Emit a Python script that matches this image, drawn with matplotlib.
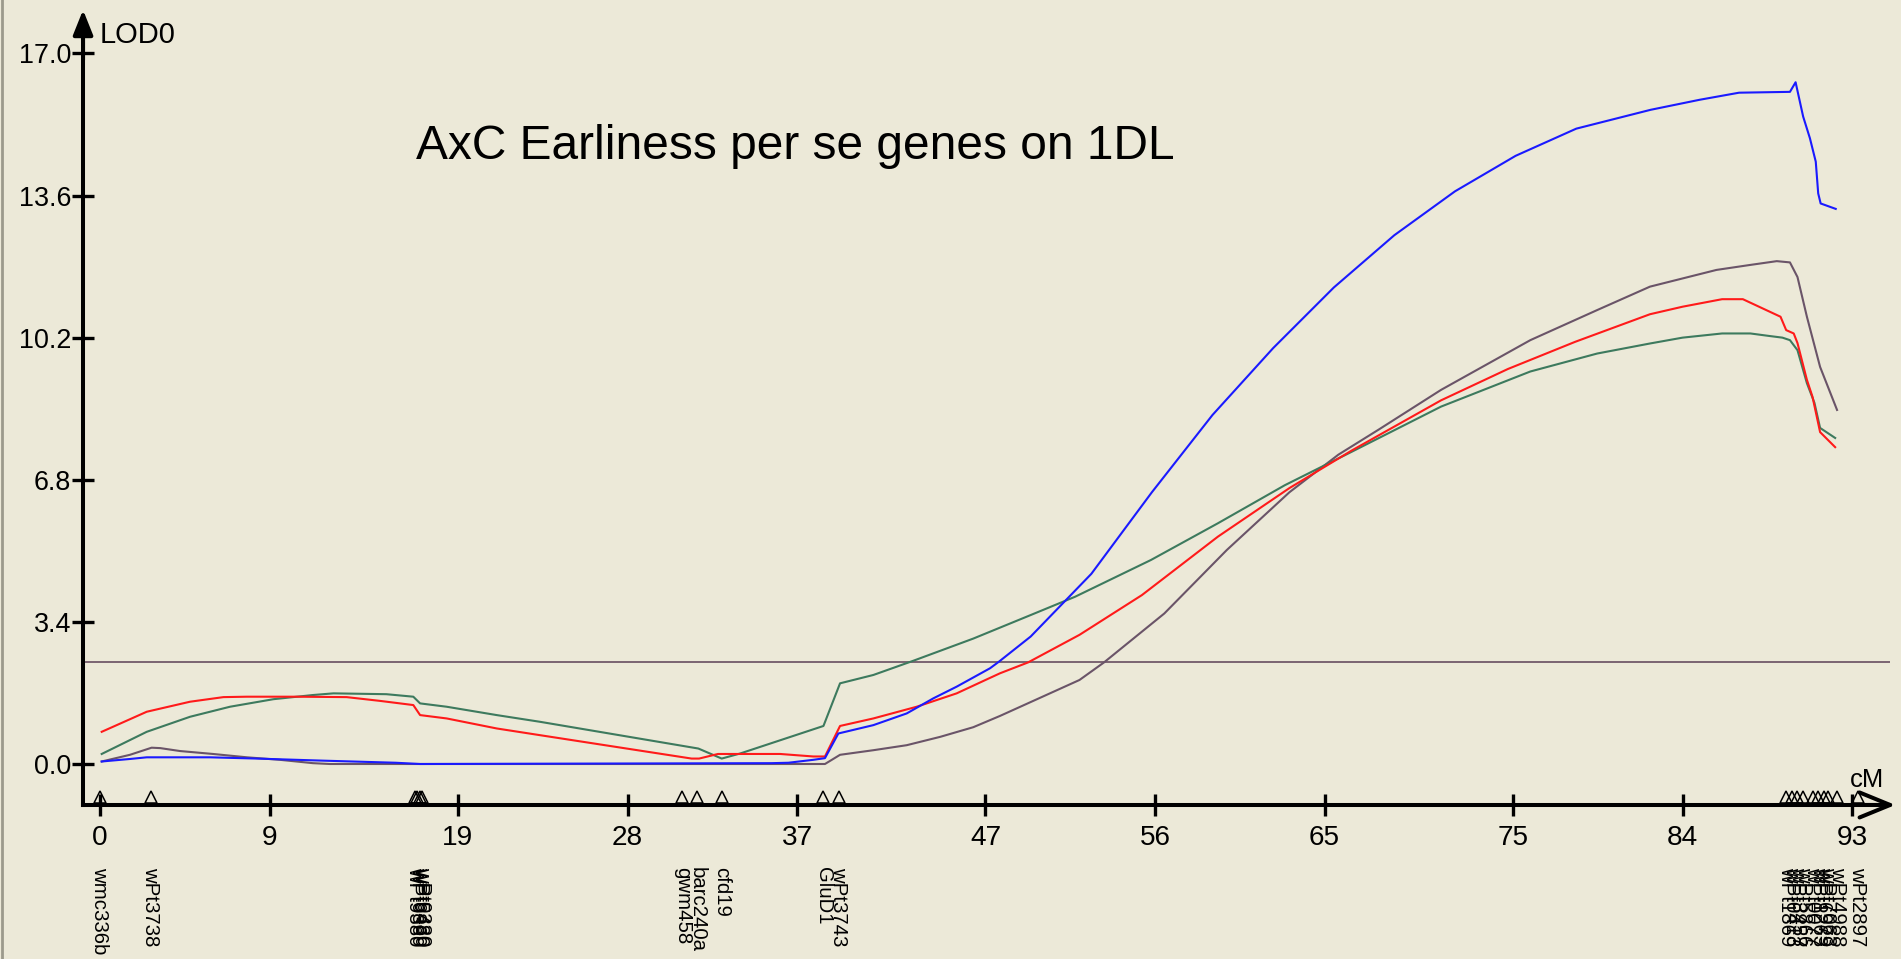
import matplotlib
matplotlib.use('Agg')
import matplotlib.pyplot as plt
from matplotlib import font_manager
from matplotlib.lines import Line2D

# LOD profiles along 1DL (position in cM, LOD score)
blue_cm = [0.09, 1.59, 2.48, 5.84, 8.3, 11.85, 15.7, 16.99, 35.65, 36.54, 37.86, 38.48, 39.19, 41.05,
           42.82, 44.23, 45.47, 47.24, 47.72, 49.4, 52.62, 55.83, 59.05, 62.27, 65.49, 68.7, 71.92,
           75.14, 78.36, 82.3, 84.9, 87.0, 89.7, 90.0, 90.4, 90.76, 91.07, 91.2, 91.33, 92.13]
blue_lod = [0.06, 0.12, 0.16, 0.16, 0.13, 0.08, 0.03, 0.0, 0.02, 0.03, 0.10, 0.14, 0.73, 0.93,
            1.21, 1.57, 1.85, 2.29, 2.45, 3.05, 4.55, 6.5, 8.35, 9.95, 11.4, 12.65, 13.7,
            14.55, 15.2, 15.65, 15.89, 16.06, 16.08, 16.31, 15.49, 14.97, 14.41, 13.65, 13.41, 13.28]

red_cm = [0.09, 2.48, 4.78, 6.55, 7.79, 10.44, 13.09, 14.86, 16.63, 16.99, 18.4, 21.06, 23.35, 31.4,
          31.8, 32.8, 36.1, 37.86, 38.48, 39.28, 41.05, 43.35, 45.47, 47.0, 47.77, 49.26, 51.99,
          55.3, 59.34, 63.13, 66.44, 68.81, 71.18, 74.73, 78.3, 82.27, 84.0, 86.1, 87.2, 89.2,
          89.5, 89.9, 90.1, 90.6, 90.9, 91.3, 92.1]
red_lod = [0.77, 1.25, 1.49, 1.60, 1.61, 1.61, 1.60, 1.51, 1.41, 1.17, 1.09, 0.85, 0.69, 0.13,
           0.13, 0.24, 0.24, 0.18, 0.18, 0.91, 1.09, 1.37, 1.69, 2.01, 2.17, 2.43, 3.09,
           4.04, 5.44, 6.6, 7.5, 8.1, 8.7, 9.45, 10.1, 10.76, 10.94, 11.12, 11.12, 10.7,
           10.38, 10.3, 10.07, 9.19, 8.78, 7.94, 7.58]

green_cm = [0.09, 2.48, 4.78, 6.9, 9.2, 11.3, 12.39, 15.2, 16.63, 16.99, 18.4, 21.06, 23.35, 31.76,
            33.0, 33.97, 38.4, 39.28, 41.05, 43.17, 46.35, 49.38, 51.75, 55.78, 59.34, 62.89,
            66.44, 71.18, 75.92, 79.47, 82.27, 84.0, 86.1, 87.6, 88.6, 89.3, 89.7, 90.1, 90.6,
            91.0, 91.3, 92.1]
green_lod = [0.24, 0.77, 1.13, 1.37, 1.55, 1.65, 1.69, 1.67, 1.61, 1.45, 1.37, 1.17, 1.01, 0.37,
             0.13, 0.25, 0.91, 1.93, 2.13, 2.47, 3.0, 3.56, 4.0, 4.88, 5.76, 6.67,
             7.47, 8.55, 9.39, 9.82, 10.06, 10.2, 10.3, 10.3, 10.24, 10.2, 10.14, 9.9, 9.11,
             8.64, 8.04, 7.8]

purple_cm = [0.09, 1.59, 2.74, 3.2, 4.25, 6.0, 7.8, 9.55, 11.3, 12.2, 38.48, 39.28, 41.05, 42.82,
             44.6, 46.35, 47.77, 51.99, 53.29, 56.49, 59.81, 63.13, 65.73, 67.87, 71.18, 75.92,
             79.47, 82.27, 85.8, 87.6, 89.0, 89.7, 90.1, 90.6, 91.3, 92.2]
purple_lod = [0.06, 0.22, 0.39, 0.38, 0.31, 0.24, 0.16, 0.10, 0.02, 0.0, 0.0, 0.22, 0.33, 0.45,
              0.65, 0.88, 1.15, 2.01, 2.43, 3.6, 5.12, 6.5, 7.4, 8.0, 8.95, 10.14,
              10.86, 11.42, 11.82, 11.94, 12.03, 12.0, 11.65, 10.7, 9.5, 8.47]

threshold = 2.43

# markers on the linkage group
marker_cm = [0.0, 2.7, 16.7, 16.85, 17.0, 17.1, 30.9, 31.7, 33.0, 38.4, 39.2,
             89.5, 89.8, 90.1, 90.4, 90.9, 91.2, 91.5, 91.7, 92.2, 93.3]
marker_names = ['wmc336b', 'wPt3738', 'wPt9380', 'wPt6869', 'wPt5480', 'wPt0330',
                'gwm458', 'barc240a', 'cfd19', 'GluD1', 'wPt3743',
                'wPt1869', 'wPt0413', 'wPt3457', 'wPt5866', 'wPt0077', 'wPt1263',
                'wPt6979', 'wPt7063', 'wPt4988', 'wPt2897']

x_ticks = [0, 9, 19, 28, 37, 47, 56, 65, 75, 84, 93]
y_ticks = [0.0, 3.4, 6.8, 10.2, 13.6, 17.0]

BG = '#ECE9D8'
W, H = 1901, 959
X0, Y0, SX, SY = 100, 764, 18.84, 41.8   # pixel of (0 cM, 0 LOD) and pixels per unit

names = {f.name for f in font_manager.fontManager.ttflist}
narrow = 'Liberation Sans Narrow' if 'Liberation Sans Narrow' in names else 'Liberation Sans'
nscale = 1.0 if narrow == 'Liberation Sans Narrow' else 0.84

xlim = (-1.0, 95.5)
ylim = (-1.2, 18.2)
left_px = X0 + SX * xlim[0]
right_px = X0 + SX * xlim[1]
top_px = Y0 - SY * ylim[1]
bottom_px = Y0 - SY * ylim[0]

fig = plt.figure(figsize=(W / 100, H / 100), dpi=100, facecolor=BG)
ax = fig.add_axes([left_px / W, 1 - bottom_px / H, (right_px - left_px) / W, (bottom_px - top_px) / H])
ax.set_facecolor(BG)
ax.set_xlim(*xlim)
ax.set_ylim(*ylim)

axis_x = -0.9
axis_y = -0.98
x_end = 95.3
y_end = 18.04

for s in ['top', 'right']:
    ax.spines[s].set_visible(False)
ax.spines['left'].set_position(('data', axis_x))
ax.spines['bottom'].set_position(('data', axis_y))
ax.spines['left'].set_bounds(axis_y, y_end - 0.5)
ax.spines['bottom'].set_bounds(axis_x, x_end - 1)
for s in ['left', 'bottom']:
    ax.spines[s].set_linewidth(2.9)

ax.annotate('', xy=(axis_x, y_end), xytext=(axis_x, y_end - 1.2),
            arrowprops=dict(arrowstyle='-|>,head_length=15,head_width=6', mutation_scale=1,
                            lw=2.9, color='black', shrinkA=0, shrinkB=0), annotation_clip=False)
ax.annotate('', xy=(x_end, axis_y), xytext=(x_end - 2, axis_y),
            arrowprops=dict(arrowstyle='->,head_length=22,head_width=9', mutation_scale=1,
                            lw=2.9, color='black', shrinkA=0, shrinkB=0), annotation_clip=False)

ax.set_xticks(x_ticks)
ax.set_xticklabels([str(t) for t in x_ticks])
ax.set_yticks(y_ticks)
ax.set_yticklabels(['%.1f' % t for t in y_ticks])
ax.tick_params(axis='both', direction='inout', length=16.5, width=2.4, color='black')
ax.tick_params(axis='y', pad=0.5)
ax.tick_params(axis='x', pad=6)
for lab in ax.get_yticklabels():
    lab.set_family(narrow)
    lab.set_fontsize(23 * nscale)
for lab in ax.get_xticklabels():
    lab.set_family(narrow)
    lab.set_fontsize(24 * nscale)

# threshold
ax.hlines(threshold, axis_x, x_end - 0.3, color='#7a6472', lw=1.4)

# LOD curves
ax.plot(purple_cm, purple_lod, color='#6a5468', lw=1.5)
ax.plot(green_cm, green_lod, color='#3d7a5e', lw=1.5)
ax.plot(red_cm, red_lod, color='#ff1a1a', lw=1.5)
ax.plot(blue_cm, blue_lod, color='#1a1aff', lw=1.5)

# markers
ax.plot(marker_cm, [-0.80] * len(marker_cm), linestyle='none', marker='^', ms=9,
        mfc='none', mec='black', mew=1.1, clip_on=False)
for cm, nm in zip(marker_cm, marker_names):
    ax.text(cm, -2.46, nm, rotation=-90, ha='center', va='top', fontsize=17.5 * nscale,
            family=narrow, clip_on=False)

fig.text(100 / W, 1 - 43 / H, 'LOD0', family=narrow, fontsize=25 * nscale, va='baseline', ha='left')
fig.text(1850 / W, 1 - 787 / H, 'cM', family=narrow, fontsize=22 * nscale, va='baseline', ha='left')
fig.text(416 / W, 1 - 159 / H, 'AxC Earliness per se genes on 1DL', family='Liberation Sans',
         fontsize=34.5, va='baseline', ha='left')

fig.add_artist(Line2D([2 / W, 2 / W], [0, 1], color='#9c9a8c', lw=2))

fig.savefig('out.png', dpi=100, facecolor=BG)
